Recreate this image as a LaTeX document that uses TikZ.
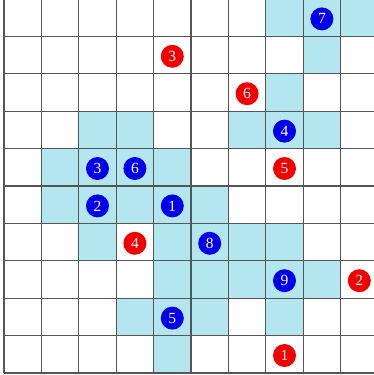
\documentclass[tikz,border=0pt]{standalone}
\usepackage{fontspec}
\setmainfont{Liberation Serif}
\definecolor{CellCyan}{RGB}{180, 230, 240}
\definecolor{GridGray}{RGB}{85, 85, 85}
\definecolor{StoneBlue}{RGB}{0, 0, 235}
\definecolor{StoneRed}{RGB}{240, 0, 0}

\begin{document}
\begin{tikzpicture}[x=37.4pt,y=-37.4pt,
  stone/.style={circle, minimum size=23pt, inner sep=0pt, text=white,
    font=\fontsize{15.5}{16}\selectfont, yshift=-1.2pt}]
  \clip (-4pt,-1pt) rectangle (370pt,-376pt);

  % shaded cells, row by row
  \foreach \r/\cols in {0/{7,8,9},1/{8},2/{7},3/{2,3,6,7,8},4/{1,2,3,4},
      5/{1,2,3,4,5},6/{2,4,5,6,7},7/{4,5,6,7,8},8/{3,4,5,7},9/{4}}{
    \foreach \c in \cols
      \fill[CellCyan] (\c,\r) rectangle ++(1,1);
  }

  % grid
  \foreach \i in {0,...,10}{
    \draw[GridGray, line width=1.1pt] (\i,0) -- (\i,10);
    \draw[GridGray, line width=1.1pt] (0,\i) -- (10,\i);
  }

  % blue stones
  \foreach \name/\c/\r/\num in {b1/4/5/1,b2/2/5/2,b3/2/4/3,b4/7/3/4,b5/4/8/5,
      b6/3/4/6,b7/8/0/7,b8/5/6/8,b9/7/7/9}
    \node[stone, fill=StoneBlue] (\name) at (\c+0.5,\r+0.5) {\num};

  % red stones
  \foreach \name/\c/\r/\num in {r1/7/9/1,r2/9/7/2,r3/4/1/3,r4/3/6/4,r5/7/4/5,r6/6/2/6}
    \node[stone, fill=StoneRed] (\name) at (\c+0.5,\r+0.5) {\num};
\end{tikzpicture}
\end{document}
